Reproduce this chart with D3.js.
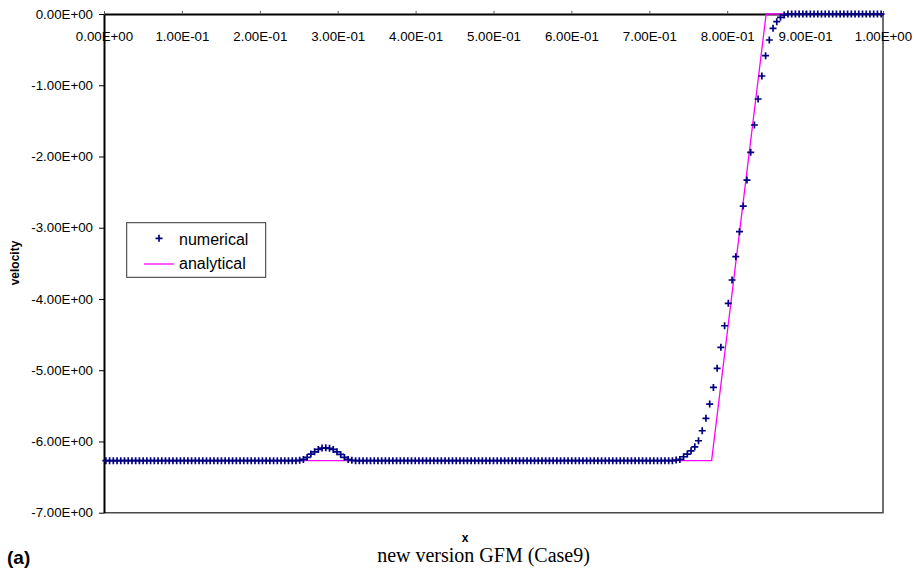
<!DOCTYPE html>
<html>
<head>
<meta charset="utf-8">
<script src="https://cdn.jsdelivr.net/npm/d3@7"></script>
<style>
  html, body { margin: 0; padding: 0; background: #fff; }
  svg { display: block; }
  text { font-family: "Liberation Sans", Arial, sans-serif; fill: #000; }
</style>
</head>
<body>
<svg id="chart" width="916" height="574"></svg>
<script>
// Velocity per mesh cell from the GFM solver (cell centres, uniform mesh on [0, 1]).
const numericalVelocity = [
  // cells 0-52: undisturbed state
  -6.27,-6.27,-6.27,-6.27,-6.27,-6.27,-6.27,-6.27,-6.27,-6.27,
  -6.27,-6.27,-6.27,-6.27,-6.27,-6.27,-6.27,-6.27,-6.27,-6.27,
  -6.27,-6.27,-6.27,-6.27,-6.27,-6.27,-6.27,-6.27,-6.27,-6.27,
  -6.27,-6.27,-6.27,-6.27,-6.27,-6.27,-6.27,-6.27,-6.27,-6.27,
  -6.27,-6.27,-6.27,-6.27,-6.27,-6.27,-6.27,-6.27,-6.27,-6.27,
  -6.27,-6.27,-6.265,
  // cells 53-65: small overshoot near the interface
  -6.252,-6.224,-6.177,-6.145,-6.112,-6.093,-6.089,-6.097,-6.112,-6.145,
  -6.182,-6.224,-6.252,
  // cells 66-153
  -6.265,-6.27,-6.27,-6.27,-6.27,-6.27,-6.27,-6.27,-6.27,-6.27,
  -6.27,-6.27,-6.27,-6.27,-6.27,-6.27,-6.27,-6.27,-6.27,-6.27,
  -6.27,-6.27,-6.27,-6.27,-6.27,-6.27,-6.27,-6.27,-6.27,-6.27,
  -6.27,-6.27,-6.27,-6.27,-6.27,-6.27,-6.27,-6.27,-6.27,-6.27,
  -6.27,-6.27,-6.27,-6.27,-6.27,-6.27,-6.27,-6.27,-6.27,-6.27,
  -6.27,-6.27,-6.27,-6.27,-6.27,-6.27,-6.27,-6.27,-6.27,-6.27,
  -6.27,-6.27,-6.27,-6.27,-6.27,-6.27,-6.27,-6.27,-6.27,-6.27,
  -6.27,-6.27,-6.27,-6.27,-6.27,-6.27,-6.27,-6.27,-6.27,-6.27,
  -6.27,-6.27,-6.27,-6.27,-6.27,-6.27,-6.27,-6.262,
  // cells 154-182: rarefaction fan
  -6.252,-6.215,-6.177,-6.131,-6.075,-5.990,-5.850,-5.676,-5.475,-5.241,
  -4.974,-4.679,-4.376,-4.061,-3.734,-3.407,-3.056,-2.696,-2.331,-1.942,
  -1.558,-1.193,-0.870,-0.585,-0.365,-0.201,-0.108,-0.046,-0.014,
  // cells 183-208: fluid at rest
  0,0,0,0,0,0,0,0,0,0,
  0,0,0,0,0,0,0,0,0,0,
  0,0,0,0,0,0
];

// Exact solution: constant state, linear fan, state at rest.
const analyticalX = [0, 0.78, 0.85, 1];
const analyticalVelocity = [-6.27, -6.27, 0, 0];

const xTickValues = [0, 0.1, 0.2, 0.3, 0.4, 0.5, 0.6, 0.7, 0.8, 0.9, 1.0];
const xTickLabels = ["0.00E+00","1.00E-01","2.00E-01","3.00E-01","4.00E-01","5.00E-01",
                     "6.00E-01","7.00E-01","8.00E-01","9.00E-01","1.00E+00"];
const yTickValues = [0, -1, -2, -3, -4, -5, -6, -7];
const yTickLabels = ["0.00E+00","-1.00E+00","-2.00E+00","-3.00E+00",
                     "-4.00E+00","-5.00E+00","-6.00E+00","-7.00E+00"];

const seriesNames = ["numerical", "analytical"];

const svg = d3.select("#chart");
const plot = { left: 104, top: 14, right: 883, bottom: 512.7 };

const x = d3.scaleLinear().domain([0, 1]).range([plot.left, plot.right]);
const y = d3.scaleLinear().domain([-7, 0]).range([plot.bottom, plot.top]);

const cellCount = numericalVelocity.length;
const numerical = numericalVelocity.map((v, i) => ({ x: (i + 0.5) / cellCount, v }));
const analytical = analyticalX.map((xv, i) => ({ x: xv, v: analyticalVelocity[i] }));

// plot area frame (right and bottom edges)
svg.append("path")
  .attr("d", `M${plot.left},${plot.bottom}H${plot.right}V${plot.top}`)
  .attr("fill", "none")
  .attr("stroke", "#4a4a4a")
  .attr("stroke-width", 1.6);

// x axis sits on v = 0 with its labels hanging inside the plot
const xAxis = d3.axisBottom(x)
  .tickValues(xTickValues)
  .tickFormat((d, i) => xTickLabels[i])
  .tickSizeInner(-3)
  .tickSizeOuter(0)
  .tickPadding(18);

const gx = svg.append("g")
  .attr("transform", `translate(0,${y(0)})`)
  .call(xAxis);
gx.select(".domain").attr("stroke", "#000").attr("stroke-width", 1.8);
gx.selectAll(".tick line").attr("stroke", "#555").attr("stroke-width", 1);
gx.selectAll(".tick text")
  .attr("font-family", "Liberation Sans, Arial, sans-serif")
  .attr("font-size", 13.3)
  .attr("fill", "#000");

const yAxis = d3.axisLeft(y)
  .tickValues(yTickValues)
  .tickFormat((d, i) => yTickLabels[i])
  .tickSizeInner(5)
  .tickSizeOuter(0)
  .tickPadding(6);

const gy = svg.append("g")
  .attr("transform", `translate(${plot.left},0)`)
  .call(yAxis);
gy.select(".domain").attr("stroke", "#000").attr("stroke-width", 2);
gy.selectAll(".tick line").attr("stroke", "#000").attr("stroke-width", 1);
gy.selectAll(".tick text")
  .attr("font-family", "Liberation Sans, Arial, sans-serif")
  .attr("font-size", 13.3)
  .attr("fill", "#000");

// analytical solution
const line = d3.line().x(d => x(d.x)).y(d => y(d.v));
svg.append("path")
  .datum(analytical)
  .attr("d", line)
  .attr("fill", "none")
  .attr("stroke", "#ff00ff")
  .attr("stroke-width", 1.3);

// numerical solution as plus markers
const plusPath = "M-3.5,0H3.5M0,-3.5V3.5";
svg.append("g")
  .selectAll("path")
  .data(numerical)
  .join("path")
  .attr("transform", d => `translate(${x(d.x)},${y(d.v)})`)
  .attr("d", plusPath)
  .attr("fill", "none")
  .attr("stroke", "#000080")
  .attr("stroke-width", 1.7);

// legend
const legend = svg.append("g");
legend.append("rect")
  .attr("x", 126.7).attr("y", 222.7)
  .attr("width", 139).attr("height", 54.6)
  .attr("fill", "#fff")
  .attr("stroke", "#333")
  .attr("stroke-width", 1);
legend.append("path")
  .attr("transform", "translate(159,238.3)")
  .attr("d", plusPath)
  .attr("fill", "none")
  .attr("stroke", "#000080")
  .attr("stroke-width", 1.7);
legend.append("line")
  .attr("x1", 144).attr("x2", 174)
  .attr("y1", 264).attr("y2", 264)
  .attr("stroke", "#ff00ff")
  .attr("stroke-width", 1.3);
legend.selectAll("text.entry")
  .data(seriesNames)
  .join("text")
  .attr("class", "entry")
  .attr("x", 179)
  .attr("y", (d, i) => i === 0 ? 244.5 : 269)
  .attr("font-size", 16)
  .text(d => d);

// axis titles
svg.append("text")
  .attr("transform", "translate(19,263) rotate(-90)")
  .attr("text-anchor", "middle")
  .attr("font-size", 12)
  .attr("font-weight", "bold")
  .text("velocity");

svg.append("text")
  .attr("x", 465).attr("y", 542)
  .attr("text-anchor", "middle")
  .attr("font-size", 12)
  .attr("font-weight", "bold")
  .text("x");

// panel tag and caption
svg.append("text")
  .attr("x", 7).attr("y", 564)
  .attr("font-size", 19)
  .attr("font-weight", "bold")
  .text("(a)");

svg.append("text")
  .attr("x", 483.5).attr("y", 562)
  .attr("text-anchor", "middle")
  .style("font-family", "'Liberation Serif', 'Times New Roman', serif")
  .attr("font-size", 20)
  .text("new version GFM (Case9)");
</script>
</body>
</html>
